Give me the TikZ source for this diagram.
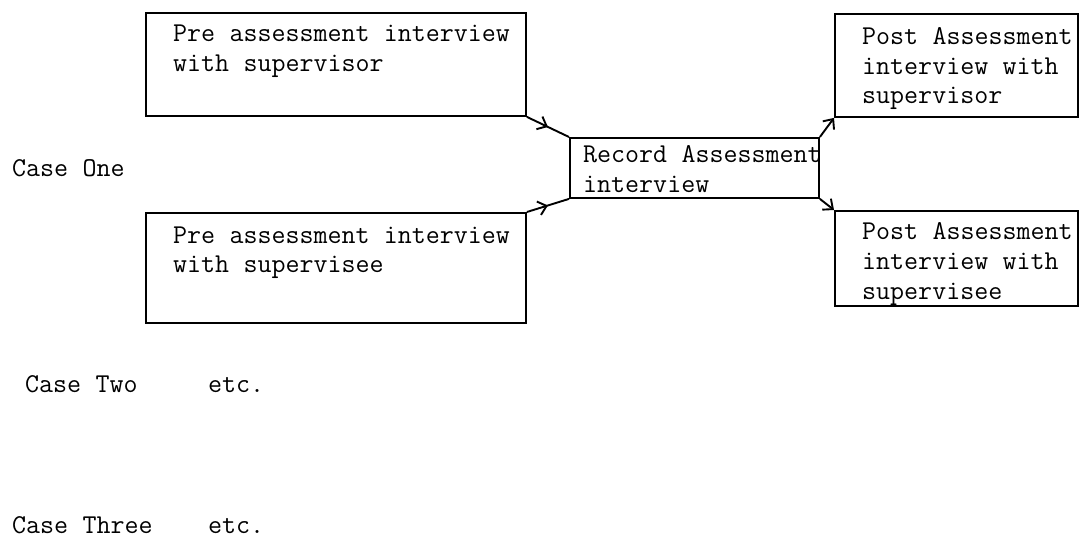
\documentclass[tikz,border=0pt]{standalone}
\usepackage{fontspec}
\usetikzlibrary{arrows.meta,decorations.markings}
\newcommand{\twfont}{\ttfamily\fontsize{27.2}{29.5}\selectfont}
\newcommand{\tsp}{\hspace*{14.28pt}}
\begin{document}
\begin{tikzpicture}[x=1pt,y=-1pt,
  box/.style={draw, line width=1.9pt, rectangle, inner sep=0pt, anchor=north west},
  txt/.style={anchor=base west, inner sep=0pt, text width=380pt, font=\twfont},
  conn/.style={line width=1.9pt},
  midarrow/.style={postaction={decorate}, decoration={markings,
    mark=at position 0.5 with {\arrow{Straight Barb[length=8pt,width=14pt,line width=1.9pt]}}}},
  endarrow/.style={-{Straight Barb[length=8pt,width=14pt,line width=1.9pt]}}
]
\useasboundingbox (0,0) rectangle (1081,540);
% boxes
\node[box, minimum width=380pt, minimum height=103pt] (preA) at (145,12) {};
\node[box, minimum width=380pt, minimum height=110pt] (preB) at (145,212) {};
\node[box, minimum width=249pt, minimum height=60pt] (rec) at (569,137) {};
\node[box, minimum width=243pt, minimum height=103pt] (postA) at (834,13) {};
\node[box, minimum width=243pt, minimum height=95pt] (postB) at (834,210) {};
% texts
\node[txt] (preAt) at (173,42) {Pre\tsp assessment\tsp interview\\with\tsp supervisor};
\node[txt] (preBt) at (173,243) {Pre\tsp assessment\tsp interview\\with\tsp supervisee};
\node[txt] (rect) at (583,163) {Record\tsp Assessment\\interview};
\node[txt] (postAt) at (862,45) {Post\tsp Assessment\\interview\tsp with\\supervisor};
\node[txt] (postBt) at (862,240) {Post\tsp Assessment\\interview\tsp with\\supervisee};
\node[txt] (c1) at (12,177) {Case\tsp One};
\node[txt] (c2) at (25,392) {Case\tsp Two};
\node[txt] (c2e) at (208,392) {etc.};
\node[txt] (c3) at (12,533) {Case\tsp Three};
\node[txt] (c3e) at (208,533) {etc.};
% connectors
\draw[conn, midarrow] (preA.south east) -- (rec.north west);
\draw[conn, midarrow] (preB.north east) -- (rec.south west);
\draw[conn, endarrow] (rec.north east) -- (postA.south west);
\draw[conn, endarrow] (rec.south east) -- (postB.north west);
\end{tikzpicture}
\end{document}
